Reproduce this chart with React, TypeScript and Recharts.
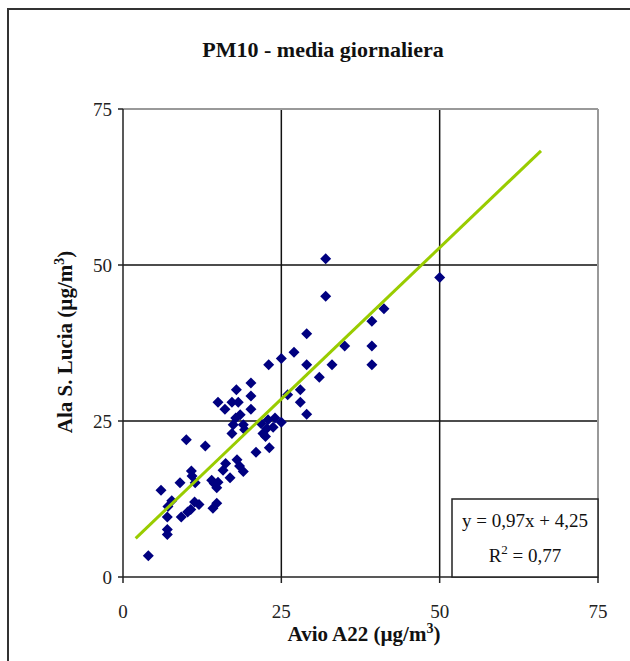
import React from 'react';
import { ScatterChart, Scatter, XAxis, YAxis, ReferenceLine } from 'recharts';

// Daily PM10 pairs: Avio A22 (x) vs Ala S. Lucia (y)
const aviaValues = [
  4, 7, 7, 7, 9.2, 10.2, 10.7, 6, 7.7, 7.1, 11.3, 12, 14.2, 14.8, 9, 11.4, 10.9, 10.8,
  14, 14.4, 14.8, 15, 16.9, 15.8, 16.2, 18, 18.4, 19, 10, 13, 21, 23.1, 22.1, 17.2,
  17.4, 17.8, 19, 19.2, 18.5, 22.7, 22.9, 23.7, 25, 16.1, 20.2, 15, 17.2, 18.2, 17.9,
  20.2, 20.2, 26, 28, 28, 29, 23, 25, 27, 29, 29, 31, 33, 35, 39.3, 39.3, 39.3, 41.2,
  32, 32, 50, 24, 21.8, 22.5,
];
const alaValues = [
  3.4, 6.8, 7.6, 9.6, 9.6, 10.4, 10.8, 13.9, 12.2, 11.3, 12, 11.6, 11, 11.8, 15.1, 15.1,
  16.2, 17, 15.5, 15, 14.3, 15.2, 15.9, 17.1, 18.2, 18.8, 17.8, 16.9, 22, 21, 20, 20.7,
  23, 23, 24.4, 25.5, 24.4, 23.6, 26, 23.8, 25.2, 24, 24.8, 26.9, 26.9, 28, 28, 28, 30,
  29, 31.1, 29.2, 30, 28, 26.1, 34, 35, 36, 34, 39, 32, 34, 37, 34, 37, 41, 43, 45, 51,
  48, 25.5, 24.6, 22.5,
];

// trend line ends (y = 0,97x + 4,25)
const trendX = [2, 66];
const trendY = [6.2, 68.3];

const ticks = [0, 25, 50, 75];
const gridLines = [25, 50];

const points = aviaValues.map((x, i) => ({ x, y: alaValues[i] }));
const trend = trendX.map((x, i) => ({ x, y: trendY[i] }));

const FONT = 'Liberation Serif';

const Diamond = (props: any) => {
  const { cx, cy } = props;
  const r = 5.5;
  return (
    <polygon
      points={`${cx},${cy - r} ${cx + r},${cy} ${cx},${cy + r} ${cx - r},${cy}`}
      fill="#000080"
    />
  );
};

export default function App() {
  return (
    <div style={{ position: 'absolute', left: 0, top: 0, width: 630, height: 661, background: '#fff', overflow: 'hidden' }}>
      {/* outer chart frame */}
      <div style={{ position: 'absolute', left: 7, top: 8, width: 700, height: 700, borderLeft: '2px solid #333', borderTop: '2px solid #333' }} />

      <div style={{ position: 'absolute', left: 0, top: 0 }}>
        <ScatterChart width={630} height={661} margin={{ top: 109, right: 32, bottom: 54, left: 63 }}>
          <XAxis
            type="number"
            dataKey="x"
            domain={[0, 75]}
            ticks={ticks}
            interval={0}
            tickSize={6}
            tickMargin={22}
            height={30}
            axisLine={{ stroke: '#222', strokeWidth: 1.5 }}
            tickLine={{ stroke: '#222', strokeWidth: 1.5 }}
            tick={{ fill: '#222', fontSize: 19, fontFamily: FONT }}
          />
          <YAxis
            type="number"
            dataKey="y"
            domain={[0, 75]}
            ticks={ticks}
            interval={0}
            tickSize={5}
            tickMargin={6}
            width={60}
            axisLine={{ stroke: '#222', strokeWidth: 1.5 }}
            tickLine={{ stroke: '#222', strokeWidth: 1.5 }}
            tick={{ fill: '#222', fontSize: 19, fontFamily: FONT }}
          />
          {gridLines.map(v => (
            <ReferenceLine key={`gy${v}`} y={v} stroke="#111" strokeWidth={1.5} />
          ))}
          {gridLines.map(v => (
            <ReferenceLine key={`gx${v}`} x={v} stroke="#111" strokeWidth={1.5} />
          ))}
          <ReferenceLine y={75} stroke="#999" strokeWidth={2} />
          <ReferenceLine x={75} stroke="#999" strokeWidth={2} />
          <Scatter data={points} shape={<Diamond />} isAnimationActive={false} />
          <Scatter
            data={trend}
            line={{ stroke: '#99cc00', strokeWidth: 3 }}
            shape={() => <g />}
            isAnimationActive={false}
          />
        </ScatterChart>
      </div>

      {/* titles and regression box */}
      <svg style={{ position: 'absolute', left: 0, top: 0 }} width={630} height={661}>
        <text x={323} y={57} textAnchor="middle" fontFamily={FONT} fontWeight="bold" fontSize={22} fill="#111">
          PM10 - media giornaliera
        </text>
        <text x={364} y={641} textAnchor="middle" fontFamily={FONT} fontWeight="bold" fontSize={21} fill="#111">
          Avio A22 (µg/m<tspan dy={-8} fontSize={14}>3</tspan><tspan dy={8}>)</tspan>
        </text>
        <text
          x={0}
          y={0}
          transform="translate(72,342) rotate(-90)"
          textAnchor="middle"
          fontFamily={FONT}
          fontWeight="bold"
          fontSize={21}
          fill="#111"
        >
          Ala S. Lucia (µg/m<tspan dy={-8} fontSize={14}>3</tspan><tspan dy={8}>)</tspan>
        </text>

        <rect x={452} y={499} width={146} height={78} fill="#fff" stroke="#222" strokeWidth={1.5} />
        <text x={525} y={527} textAnchor="middle" fontFamily={FONT} fontSize={19} fill="#111">
          y = 0,97x + 4,25
        </text>
        <text x={525} y={562} textAnchor="middle" fontFamily={FONT} fontSize={19} fill="#111">
          R<tspan dy={-8} fontSize={13}>2</tspan><tspan dy={8}> = 0,77</tspan>
        </text>
      </svg>
    </div>
  );
}
